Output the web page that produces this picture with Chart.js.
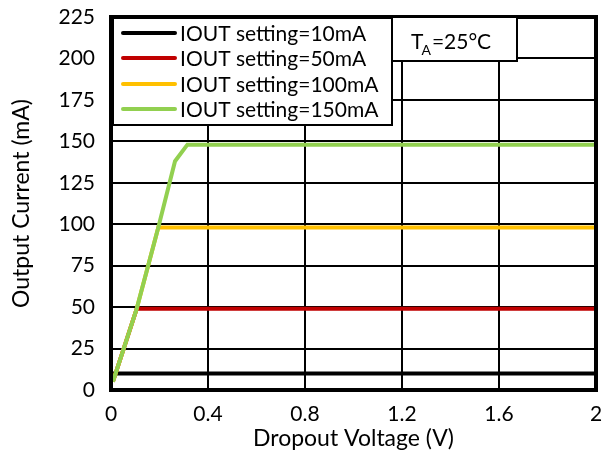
<!DOCTYPE html>
<html><head><meta charset="utf-8">
<script src="https://cdn.jsdelivr.net/npm/chart.js@4/dist/chart.umd.min.js"></script>
<style>html,body{margin:0;padding:0;background:#fff}#c{display:block}</style>
</head><body>
<canvas id="c" width="602" height="454"></canvas>
<script>
const seriesLabels = ["IOUT setting=10mA","IOUT setting=50mA","IOUT setting=100mA","IOUT setting=150mA"];
const seriesColors = ["#000000","#C00000","#FFC000","#92D050"];
const v10x = [0, 2]; const v10y = [10, 10];
const v50x = [0.008, 0.106, 2]; const v50y = [5, 49, 49];
const v100x = [0.008, 0.106, 0.195, 2]; const v100y = [5, 49, 98, 98];
const v150x = [0.008, 0.106, 0.195, 0.264, 0.315, 2]; const v150y = [5, 49, 98, 138, 148, 148];
const xTicks = [0, 0.4, 0.8, 1.2, 1.6, 2];
const yTicks = [0, 25, 50, 75, 100, 125, 150, 175, 200, 225];
const FONT = "Lato, 'Open Sans', sans-serif";

function pts(xs, ys){ return xs.map((x,i)=>({x:x,y:ys[i]})); }
const allX=[v10x,v50x,v100x,v150x], allY=[v10y,v50y,v100y,v150y];

const framePlugin = {
  id:'frame',
  afterDatasetsDraw(chart){
    const ctx=chart.ctx, a=chart.chartArea;
    ctx.save();
    ctx.lineWidth=4; ctx.strokeStyle='#000';
    ctx.strokeRect(a.left, a.top, a.right-a.left, a.bottom-a.top);
    // legend box
    const lx=113, ly=18, lw=279, lh=107;
    ctx.fillStyle='#fff'; ctx.fillRect(lx,ly,lw,lh);
    ctx.lineWidth=2; ctx.strokeRect(lx,ly,lw,lh);
    ctx.font="21px "+FONT; ctx.textBaseline='middle'; ctx.textAlign='left';
    const rows=[33,58,84,109];
    for(let i=0;i<4;i++){
      ctx.strokeStyle=seriesColors[i]; ctx.lineWidth=4; ctx.lineCap='round';
      ctx.beginPath(); ctx.moveTo(123,rows[i]); ctx.lineTo(175,rows[i]); ctx.stroke();
      ctx.fillStyle='#000'; ctx.fillText(seriesLabels[i],180,rows[i]+1);
    }
    // TA box
    ctx.lineCap='butt';
    ctx.fillStyle='#fff'; ctx.fillRect(392,17,125,44);
    ctx.strokeStyle='#000'; ctx.lineWidth=2; ctx.strokeRect(392,17,125,44);
    ctx.fillStyle='#000';
    ctx.font="21px "+FONT; ctx.textAlign='left'; ctx.textBaseline='alphabetic';
    let x=411; ctx.fillText("T",x,49); x+=ctx.measureText("T").width;
    ctx.font="14px "+FONT; ctx.fillText("A",x-2,55); x+=ctx.measureText("A").width-1;
    ctx.font="21px "+FONT; ctx.fillText("=25°C",x,49);
    ctx.restore();
  }
};

new Chart(document.getElementById('c'),{
  type:'line',
  data:{datasets: seriesLabels.map((l,i)=>({
    label:l, data:pts(allX[i],allY[i]), borderColor:seriesColors[i], backgroundColor:seriesColors[i],
    borderWidth:4, pointRadius:0, tension:0, fill:false, order:4-i
  }))},
  options:{
    responsive:false, animation:false, devicePixelRatio:1,
    layout:{padding:{top:17,right:6,left:0,bottom:0}},
    plugins:{legend:{display:false}, tooltip:{enabled:false}},
    scales:{
      x:{type:'linear',min:0,max:2,
        afterBuildTicks(s){ s.ticks = xTicks.map(v=>({value:v})); },
        afterFit(s){ s.height=64; s.paddingLeft=0; s.paddingRight=0; },
        grid:{color:'#000',lineWidth:2,drawTicks:false},
        border:{display:false},
        ticks:{color:'#000',font:{family:FONT,size:21},padding:12,maxRotation:0,
          callback:v=>String(v)},
        title:{display:true,text:'Dropout Voltage (V)',color:'#000',font:{family:FONT,size:23},padding:{top:0,bottom:2}}
      },
      y:{type:'linear',min:0,max:225,
        afterBuildTicks(s){ s.ticks = yTicks.map(v=>({value:v})); },
        afterFit(s){ s.width=111; s.paddingTop=0; s.paddingBottom=0; },
        grid:{color:'#000',lineWidth:2,drawTicks:false},
        border:{display:false},
        ticks:{color:'#000',font:{family:FONT,size:21},padding:16},
        title:{display:true,text:'Output Current (mA)',color:'#000',font:{family:FONT,size:23},padding:{top:8,bottom:0}}
      }
    }
  },
  plugins:[framePlugin]
});
</script>
</body></html>
